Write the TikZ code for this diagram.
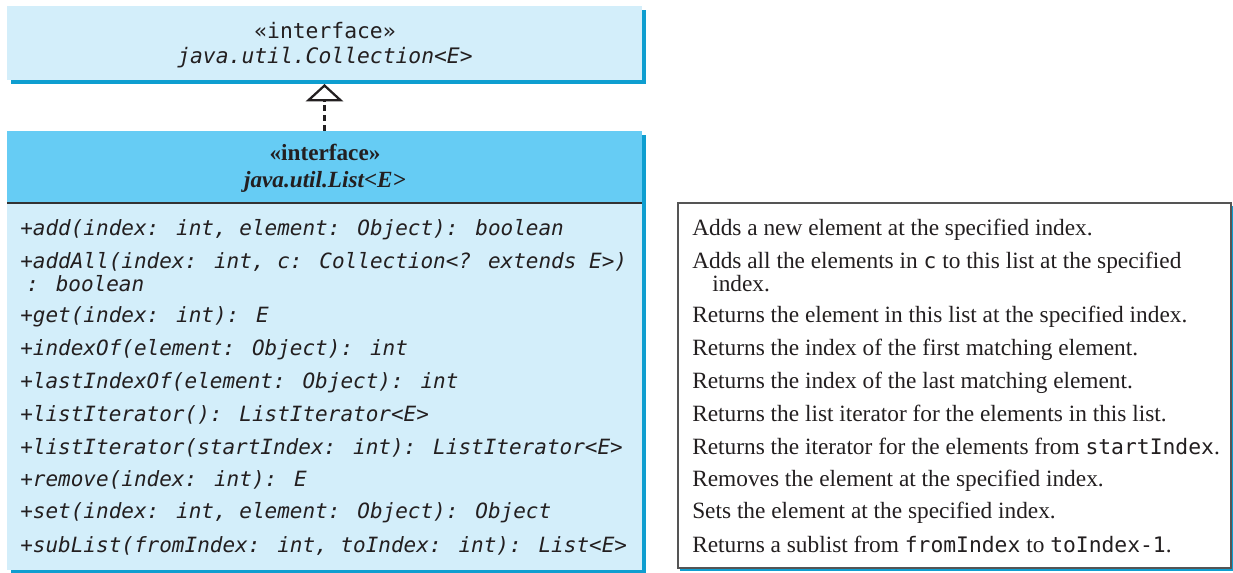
\documentclass[tikz,border=0pt]{standalone}
\usepackage{fontspec}
\setmainfont{Liberation Serif}
\newfontfamily\monof{DejaVu Sans Mono}
\usetikzlibrary{arrows.meta,fit}
\definecolor{lightfill}{HTML}{D3EEFA}
\definecolor{headfill}{HTML}{66CCF4}
\definecolor{shadowc}{HTML}{0E9ED0}
\definecolor{divc}{HTML}{333333}
\definecolor{boxline}{HTML}{555555}
\definecolor{textc}{HTML}{231F20}
\newcommand{\mcode}[1]{{\monof\fontsize{16pt}{19pt}\selectfont #1}}
\begin{document}
\begin{tikzpicture}[x=0.75pt,y=-0.75pt,
  boxfill/.style={inner sep=0pt, outer sep=0pt},
  mono/.style={font=\monof\fontsize{15.75pt}{19pt}\selectfont\itshape, inner sep=0pt, anchor=base west, text=textc},
  monoup/.style={font=\monof\fontsize{16pt}{19pt}\selectfont, inner sep=0pt, anchor=base, text=textc},
  monoit/.style={font=\monof\fontsize{16pt}{19pt}\selectfont\itshape, inner sep=0pt, anchor=base, text=textc},
  headbf/.style={font=\fontsize{17.4pt}{20pt}\selectfont\bfseries, inner sep=0pt, anchor=base, text=textc},
  headbi/.style={font=\fontsize{17.4pt}{20pt}\selectfont\bfseries\itshape, inner sep=0pt, anchor=base, text=textc},
  desc/.style={font=\fontsize{17.5pt}{20pt}\selectfont, inner sep=0pt, anchor=base west, text=textc},
  realize/.style={dash pattern=on 4.5pt off 3pt, line width=1.9pt, draw=textc,
    -{Triangle[open, length=13pt, width=28pt, line width=1.7pt]}, shorten >=3pt}
]
\useasboundingbox (0,0) rectangle (1233,573);

% Collection box
\fill[shadowc] (11,10) rectangle (646,84);
\node[boxfill, fill=lightfill, fit={(7,6)(642,80)}] (coll) {};
\node[monoup] (collst) at (325,39) {«interface»};
\node[monoit] (collname) at (325,64) {java.util.Collection<E>};

% List box
\fill[shadowc] (11,135) rectangle (646,574);
\node[boxfill, fill=headfill, fit={(7,131)(642,203)}] (listh) {};
\node[boxfill, fill=lightfill, fit={(7,203)(642,570)}] (listb) {};
\draw[divc, line width=1.2pt] (listh.south west) -- (listh.south east);
\node[headbf] (listst) at (325,161) {«interface»};
\node[headbi] (listname) at (325,188) {java.util.List<E>};

% realization arrow
\draw[realize] (listh.north) -- (coll.south);

% methods
\node[mono] (m1)  at (20,236) {+add(index: int, element: Object): boolean};
\node[mono] (m2)  at (20,269) {+addAll(index: int, c: Collection<? extends E>)};
\node[mono] (m2b) at (26,292) {: boolean};
\node[mono] (m3)  at (20,323) {+get(index: int): E};
\node[mono] (m4)  at (20,356) {+indexOf(element: Object): int};
\node[mono] (m5)  at (20,389) {+lastIndexOf(element: Object): int};
\node[mono] (m6)  at (20,422) {+listIterator(): ListIterator<E>};
\node[mono] (m7)  at (20,455) {+listIterator(startIndex: int): ListIterator<E>};
\node[mono] (m8)  at (20,487) {+remove(index: int): E};
\node[mono] (m9)  at (20,519) {+set(index: int, element: Object): Object};
\node[mono] (m10) at (20,553) {+subList(fromIndex: int, toIndex: int): List<E>};

% description box
\fill[shadowc] (680,206) rectangle (1233,571);
\node[boxfill, fill=white, draw=boxline, line width=1.1pt, fit={(678,203)(1231,568)}] (descbox) {};
\node[desc] (d1)  at (692,236) {Adds a new element at the specified index.};
\node[desc] (d2)  at (692,269) {Adds all the elements in \mcode{c} to this list at the specified};
\node[desc] (d2b) at (712,292) {index.};
\node[desc] (d3)  at (692,323) {Returns the element in this list at the specified index.};
\node[desc] (d4)  at (692,356) {Returns the index of the first matching element.};
\node[desc] (d5)  at (692,389) {Returns the index of the last matching element.};
\node[desc] (d6)  at (692,422) {Returns the list iterator for the elements in this list.};
\node[desc] (d7)  at (692,455) {Returns the iterator for the elements from \mcode{startIndex}.};
\node[desc] (d8)  at (692,487) {Removes the element at the specified index.};
\node[desc] (d9)  at (692,519) {Sets the element at the specified index.};
\node[desc] (d10) at (692,553) {Returns a sublist from \mcode{fromIndex} to \mcode{toIndex-1}.};
\end{tikzpicture}
\end{document}
